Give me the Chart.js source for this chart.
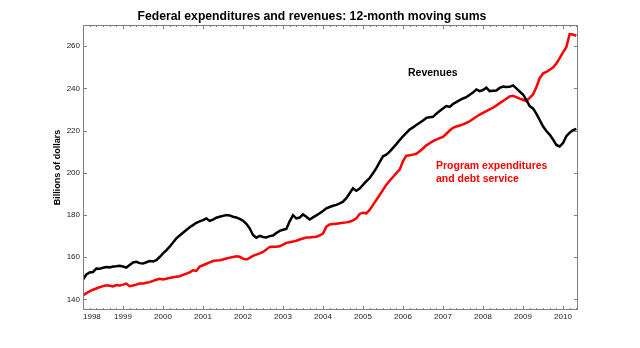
<!DOCTYPE html>
<html>
<head>
<meta charset="utf-8">
<title>Federal expenditures and revenues</title>
<style>
  html, body { margin: 0; padding: 0; background: #fff; }
</style>
</head>
<body>
<canvas id="fedChart" width="640" height="348"></canvas>
<script src="https://cdn.jsdelivr.net/npm/chart.js@4.4.1/dist/chart.umd.min.js"></script>
<script>
// monthly 12-month moving sums, billions of dollars, starting January 1998
const startYear = 1998;
const revenues = [
    149.4, 151.8, 152.8, 153.0, 154.6, 154.5, 155.0, 155.4, 155.2, 155.6, 155.7, 155.9,
    155.6, 155.1, 156.3, 157.5, 157.8, 157.2, 157.0, 157.6, 158.2, 158.0, 158.6, 160.1,
    161.8, 163.3, 165.0, 167.0, 168.9, 170.3, 171.6, 172.9, 174.2, 175.2, 176.3, 177.0,
    177.6, 178.4, 177.2, 177.8, 178.7, 179.2, 179.6, 180.0, 179.8, 179.2, 178.8, 178.2,
    177.3, 175.8, 173.7, 170.5, 169.2, 170.1, 169.6, 169.4, 170.0, 170.3, 171.5, 172.5,
    173.0, 173.4, 177.0, 179.9, 178.4, 178.8, 180.3, 179.2, 177.9, 178.9, 179.8, 180.8,
    181.9, 183.2, 183.8, 184.4, 184.8, 185.5, 186.3, 188.0, 190.3, 192.7, 191.5, 192.5,
    194.3, 196.0, 197.5, 199.8, 202.2, 205.0, 207.8, 208.6, 210.0, 211.8, 213.6, 215.5,
    217.3, 218.9, 220.5, 221.5, 222.6, 223.7, 224.8, 226.0, 226.3, 226.5, 228.0, 229.3,
    230.5, 231.6, 231.2, 232.6, 233.5, 234.4, 235.2, 235.8, 237.0, 238.0, 239.5, 238.7,
    239.2, 240.3, 238.7, 238.9, 239.0, 240.2, 240.8, 240.6, 240.7, 241.4, 240.0, 238.5,
    237.1, 234.5, 231.6, 230.5, 228.0, 225.0, 222.0, 219.8, 218.1, 215.8, 213.2, 212.5,
    214.1, 217.3, 219.0, 220.2, 220.8
];
const expenditures = [
    141.9, 143.0, 143.8, 144.6, 145.2, 145.8, 146.3, 146.7, 146.5, 146.2, 146.8, 146.6,
    147.0, 147.5, 146.3, 146.6, 147.0, 147.5, 147.6, 147.9, 148.2, 148.8, 149.3, 149.8,
    149.5, 149.8, 150.2, 150.5, 150.8, 151.0, 151.6, 152.2, 152.8, 153.8, 153.5, 155.6,
    156.2, 156.9, 157.6, 158.2, 158.4, 158.6, 158.9, 159.4, 159.8, 160.1, 160.5, 160.2,
    159.3, 158.9, 159.7, 160.6, 161.2, 161.8, 162.5, 163.6, 164.9, 165.0, 165.0, 165.2,
    166.0, 166.8, 167.1, 167.4, 167.8, 168.4, 168.9, 169.4, 169.4, 169.6, 169.7, 170.3,
    171.2, 174.5, 175.5, 175.7, 175.9, 176.1, 176.3, 176.5, 176.8, 177.5, 178.4, 180.5,
    181.1, 180.8, 182.4, 184.8, 187.1, 189.5, 191.9, 194.3, 196.2, 198.0, 199.8, 201.5,
    205.5, 208.1, 208.3, 208.6, 209.0, 210.2, 211.5, 213.0, 214.0, 215.0, 215.7, 216.4,
    217.0, 218.5, 220.0, 221.3, 221.9, 222.4, 222.9, 223.6, 224.4, 225.5, 226.5, 227.6,
    228.4, 229.2, 230.0, 230.8, 231.9, 233.0, 234.0, 235.1, 236.2, 236.5, 235.8, 235.1,
    234.6, 234.0, 235.5, 237.1, 240.5, 244.8, 247.0, 247.8, 248.8, 249.8, 251.8, 254.3,
    257.0, 259.5, 265.7, 265.5, 264.9
];
const yearTicks = [1998, 1999, 2000, 2001, 2002, 2003, 2004, 2005, 2006, 2007, 2008, 2009, 2010];
const valueTicks = [140, 160, 180, 200, 220, 240, 260];

const xMin = 1998, xMax = 2010.375;
const yMin = 135, yMax = 270;

const toPoints = arr => arr.map((v, i) => ({ x: startYear + i / 12, y: v }));

Chart.defaults.font.family = "'Liberation Sans', Arial, sans-serif";

// frame with inward ticks, title and line labels
const frameAndText = {
    id: 'frameAndText',
    afterDraw(chart) {
        const { ctx, chartArea: a, scales: { x, y } } = chart;
        ctx.save();
        ctx.strokeStyle = '#808080';
        ctx.lineWidth = 1;
        ctx.strokeRect(a.left + 0.5, a.top + 0.5, a.right - a.left - 1, a.bottom - a.top - 1);

        ctx.beginPath();
        for (let m = 0; startYear + m / 12 <= xMax; m += 2) {
            const px = Math.round(x.getPixelForValue(startYear + m / 12)) + 0.5;
            const len = m % 12 === 0 ? 4 : 2;
            ctx.moveTo(px, a.bottom); ctx.lineTo(px, a.bottom - len);
            ctx.moveTo(px, a.top); ctx.lineTo(px, a.top + len);
        }
        valueTicks.forEach(v => {
            const py = Math.round(y.getPixelForValue(v)) + 0.5;
            ctx.moveTo(a.left, py); ctx.lineTo(a.left + 4, py);
            ctx.moveTo(a.right, py); ctx.lineTo(a.right - 4, py);
        });
        ctx.stroke();

        ctx.fillStyle = '#000';
        ctx.textAlign = 'center';
        ctx.textBaseline = 'alphabetic';
        ctx.font = "bold 12.2px 'Liberation Sans', Arial, sans-serif";
        ctx.fillText('Federal expenditures and revenues: 12-month moving sums', 312, 19.5);

        ctx.save();
        ctx.translate(58, (a.top + a.bottom) / 2);
        ctx.rotate(-Math.PI / 2);
        ctx.textBaseline = 'middle';
        ctx.font = "bold 9px 'Liberation Sans', Arial, sans-serif";
        ctx.fillText('Billions of dollars', 0, 0);
        ctx.restore();

        ctx.textAlign = 'left';
        ctx.font = "bold 10.5px 'Liberation Sans', Arial, sans-serif";
        ctx.fillText('Revenues', 408, 76);
        ctx.fillStyle = '#ff0000';
        ctx.fillText('Program expenditures', 436, 169);
        ctx.fillText('and debt service', 436, 182);
        ctx.restore();
    }
};

const ctx = document.getElementById('fedChart').getContext('2d');
const fedChart = new Chart(ctx, {
    type: 'line',
    data: {
        datasets: [{
            label: 'Revenues',
            data: toPoints(revenues),
            borderColor: '#000000',
            borderWidth: 2.5,
            pointRadius: 0,
            tension: 0
        }, {
            label: 'Program expenditures and debt service',
            data: toPoints(expenditures),
            borderColor: '#ff0000',
            borderWidth: 2.5,
            pointRadius: 0,
            tension: 0
        }]
    },
    options: {
        responsive: false,
        animation: false,
        layout: {
            padding: { left: 0, right: 62, top: 25, bottom: 0 }
        },
        plugins: {
            legend: { display: false },
            tooltip: { enabled: false },
            title: { display: false }
        },
        scales: {
            x: {
                type: 'linear',
                min: xMin,
                max: xMax,
                grid: { display: false, drawTicks: false },
                border: { display: false },
                afterBuildTicks: s => {
                    s.ticks = yearTicks.map(v => ({ value: v })).concat([{ value: xMax }]);
                },
                afterFit: s => { s.height = 38; },
                ticks: {
                    align: 'inner',
                    autoSkip: false,
                    maxRotation: 0,
                    padding: 2,
                    color: '#222',
                    font: { size: 8 },
                    callback: v => Number.isInteger(v) ? String(v) : ''
                }
            },
            y: {
                min: yMin,
                max: yMax,
                grid: { display: false, drawTicks: false },
                border: { display: false },
                afterBuildTicks: s => {
                    s.ticks = valueTicks.map(v => ({ value: v }));
                },
                afterFit: s => { s.width = 83; },
                ticks: {
                    padding: 3,
                    color: '#222',
                    font: { size: 8 }
                }
            }
        }
    },
    plugins: [frameAndText]
});
</script>
</body>
</html>
